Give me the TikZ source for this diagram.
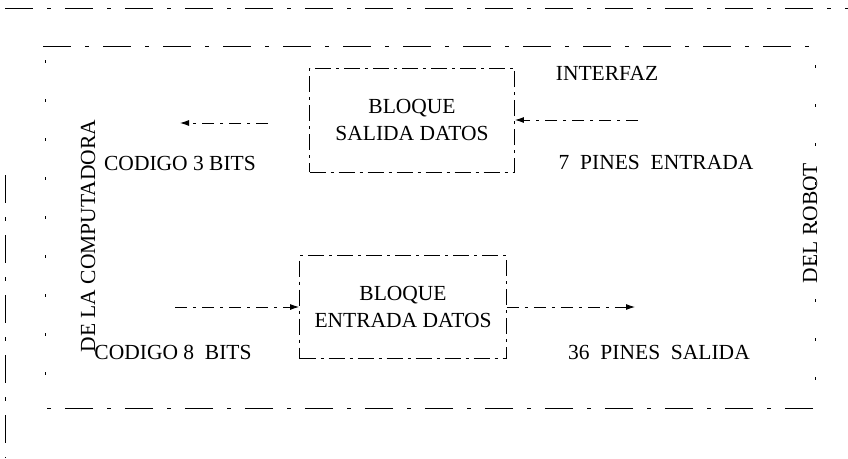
\documentclass[tikz,border=0pt]{standalone}
\usepackage{fontspec}
\setmainfont{Liberation Serif}
\usepackage{tikz}
\usetikzlibrary{arrows.meta, positioning}

\begin{document}
\begin{tikzpicture}[
        x=1pt, y=-1pt,
        >={Latex[length=9pt,width=6pt]},
        every node/.style={font=\fontsize{21.5}{27}\selectfont},
        frame/.style={line width=0.9pt, dash pattern=on 28pt off 14pt on 4pt off 14pt},
        side/.style={line width=0.9pt, dash pattern=on 3pt off 36pt},
        blk/.style={draw, line width=0.9pt, dash pattern=on 16pt off 5pt on 3pt off 5pt, minimum width=205pt, minimum height=104pt, align=center, inner sep=0pt},
        flow/.style={->, line width=0.9pt, dash pattern=on 12pt off 6pt on 3pt off 6pt},
        lbl/.style={inner sep=1pt},
    ]
    \useasboundingbox (0,0) rectangle (848,458);

    % ── Outer lines ──
    \draw[frame] (5,8) -- (848,8);
    \draw[frame] (5,175) -- (5,458);
    \draw[frame] (43,46) -- (813,46);
    \draw[frame] (813,408) -- (45,408);
    \draw[side] (45,60) -- (45,400);
    \draw[side] (815,65) -- (815,400);

    % ── Blocks ──
    \node[blk] (salida) at (412,120) {BLOQUE\\SALIDA DATOS};
    \node[blk, minimum width=207pt, minimum height=103pt] (entrada) at (403,307) {BLOQUE\\ENTRADA DATOS};

    % ── Labels ──
    \node[lbl] (interfaz) at (607,73) {INTERFAZ};
    \node[lbl] (cod3) at (180,163) {CODIGO 3 BITS};
    \node[lbl] (pin7) at (656,162) {7\ \ PINES\ \ ENTRADA};
    \node[lbl] (cod8) at (173,352) {CODIGO 8\ \ BITS};
    \node[lbl] (pin36) at (659,352) {36\ \ PINES\ \ SALIDA};
    \node[lbl, rotate=90] (compu) at (88,236) {DE LA COMPUTADORA};
    \node[lbl, rotate=90] (robot) at (810,223) {DEL ROBOT};

    % ── Arrow ends ──
    \coordinate (robotin) at (638,120);
    \coordinate (compuout) at (268,123);
    \coordinate (compuhead) at (180,123);
    \coordinate (compuin) at (175,307);
    \coordinate (robotout) at (635,307);

    % ── Arrows ──
    \draw[flow] (robotin) -- (salida.east);
    \draw[flow] (compuout) -- (compuhead);
    \draw[flow] (compuin) -- (entrada.west);
    \draw[flow] (entrada.east) -- (robotout);

\end{tikzpicture}
\end{document}
